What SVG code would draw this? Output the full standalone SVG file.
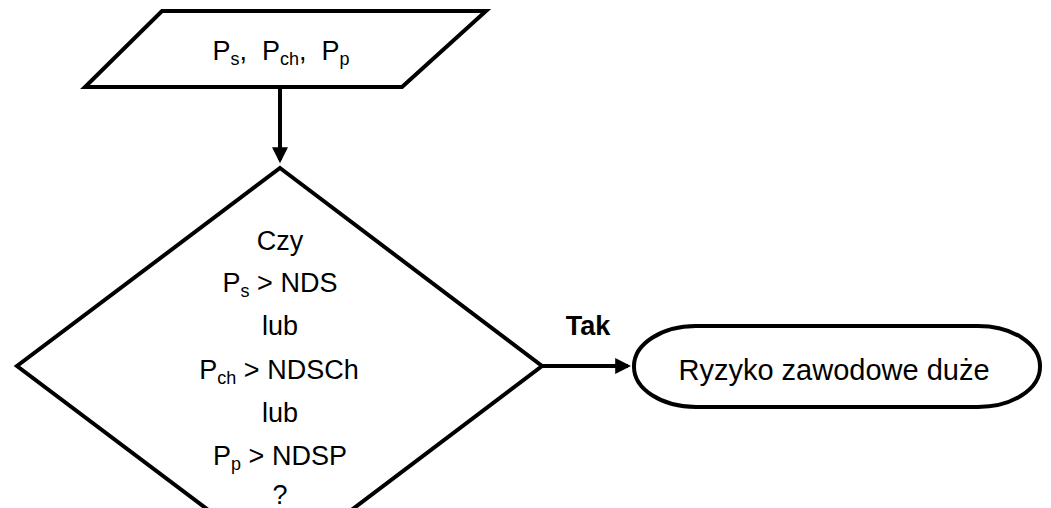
<svg xmlns="http://www.w3.org/2000/svg" width="1051" height="508" viewBox="0 0 1051 508">
<style>
.shape{fill:#fff;stroke:#000;stroke-width:4;stroke-linejoin:miter}
.conn{fill:none;stroke:#000;stroke-width:4}
.t{font-family:"Liberation Sans",Arial,sans-serif;font-size:27px;fill:#000;text-anchor:middle}
.sub{font-size:18px}
.b{font-weight:bold}
</style>
<defs>
<marker id="ah" markerWidth="4" markerHeight="4" refX="3.2" refY="2" orient="auto" markerUnits="strokeWidth">
<path d="M0,0 L4,2 L0,4 z" fill="#000"/>
</marker>
</defs>
<g id="input">
<polygon class="shape" points="162,11 486,11 402,87 85,87"/>
<text class="t" x="281" y="60" xml:space="preserve">P<tspan class="sub" dy="5">s</tspan><tspan dy="-5">,  P</tspan><tspan class="sub" dy="5">ch</tspan><tspan dy="-5">,  P</tspan><tspan class="sub" dy="5">p</tspan></text>
</g>
<g id="decision">
<polygon class="shape" points="280,168 542,366 280,564 17,366"/>
<text class="t" x="280" y="250">Czy</text>
<text class="t" x="280" y="292">P<tspan class="sub" dy="5">s</tspan><tspan dy="-5"> &gt; NDS</tspan></text>
<text class="t" x="280" y="335">lub</text>
<text class="t" x="279" y="379">P<tspan class="sub" dy="5">ch</tspan><tspan dy="-5"> &gt; NDSCh</tspan></text>
<text class="t" x="280" y="422">lub</text>
<text class="t" x="280" y="465">P<tspan class="sub" dy="5">p</tspan><tspan dy="-5"> &gt; NDSP</tspan></text>
<text class="t" x="280" y="504">?</text>
</g>
<g id="result">
<rect class="shape" x="634" y="326" width="406" height="81" rx="62" ry="40"/>
<text class="t" x="834" y="380" style="font-size:29px">Ryzyko zawodowe duże</text>
</g>
<g id="connectors">
<line class="conn" x1="280" y1="87" x2="280" y2="160" marker-end="url(#ah)"/>
<line class="conn" x1="542" y1="366" x2="628" y2="366" marker-end="url(#ah)"/>
<text class="t b" x="588" y="335">Tak</text>
</g>
</svg>
